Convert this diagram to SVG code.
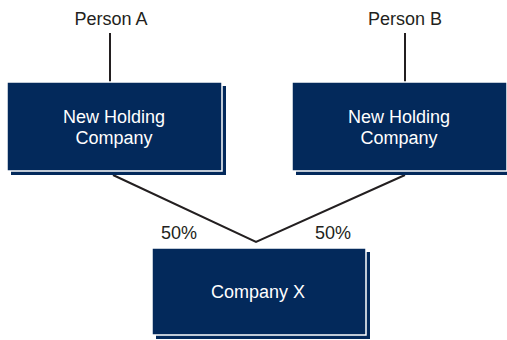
<svg xmlns="http://www.w3.org/2000/svg" width="507" height="340" viewBox="0 0 507 340">
<style>
.shadow{fill:#03295b}
.box{fill:#03295b;stroke:#ffffff;stroke-width:1.5}
.lbl{font-family:"Liberation Sans",Arial,sans-serif;font-size:18px;fill:#ffffff;text-anchor:middle}
.ext{font-family:"Liberation Sans",Arial,sans-serif;font-size:18px;fill:#231f20;text-anchor:middle}
.conn{stroke:#231f20;stroke-width:2;fill:none}
</style>
<rect width="507" height="340" fill="#ffffff"/>
<g id="connectors">
<line class="conn" x1="110" y1="33" x2="110" y2="82"/>
<line class="conn" x1="405" y1="33" x2="405" y2="82"/>
<polyline class="conn" points="113,175 256,242 405,175"/>
</g>
<g id="personA"><text class="ext" x="111" y="25">Person A</text></g>
<g id="personB"><text class="ext" x="405" y="25">Person B</text></g>
<g id="holdingA">
<rect class="shadow" x="11" y="86" width="215" height="89"/>
<rect class="box" x="7" y="82" width="215" height="89"/>
<text class="lbl" x="114" y="122.5">New Holding</text>
<text class="lbl" x="114" y="143.5">Company</text>
</g>
<g id="holdingB">
<rect class="shadow" x="296" y="86" width="215" height="89"/>
<rect class="box" x="292" y="82" width="215" height="89"/>
<text class="lbl" x="399" y="122.5">New Holding</text>
<text class="lbl" x="399" y="143.5">Company</text>
</g>
<g id="labels">
<text class="ext" x="179" y="239">50%</text>
<text class="ext" x="333" y="239">50%</text>
</g>
<g id="companyX">
<rect class="shadow" x="156" y="252" width="214" height="87"/>
<rect class="box" x="152" y="248" width="214" height="87"/>
<text class="lbl" x="258" y="298">Company X</text>
</g>
</svg>
